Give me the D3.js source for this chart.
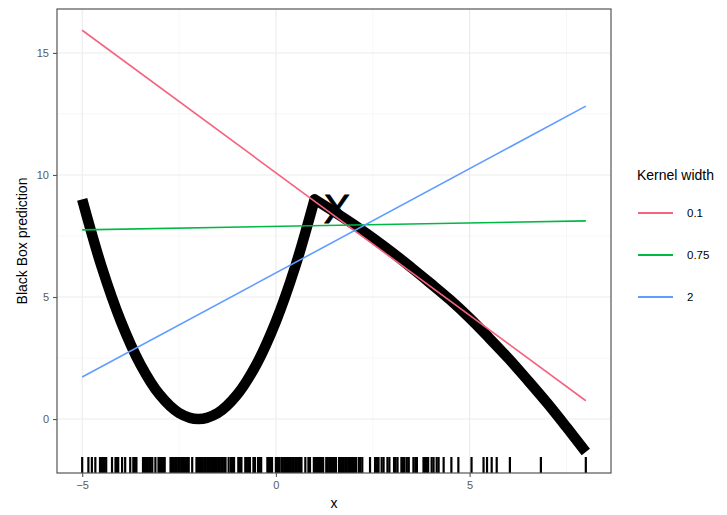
<!DOCTYPE html>
<html>
<head>
<meta charset="utf-8">
<script src="https://cdn.jsdelivr.net/npm/d3@7"></script>
<style>
  html, body { margin: 0; padding: 0; background: #fff; }
  svg { display: block; font-family: "Liberation Sans", Arial, Helvetica, sans-serif; }
</style>
</head>
<body>
<svg id="chart" width="727" height="515"></svg>
<script>
// ---- data ----
const xTicks = [-5, 0, 5];
const yTicks = [0, 5, 10, 15];
const xMinor = [-2.5, 2.5, 7.5];
const yMinor = [2.5, 7.5, 12.5];

// black-box prediction curve (x, y)
const curveX = [-5, -4.5, -4, -3.5, -3, -2.5, -2, -1.5, -1, -0.5, 0, 0.5, 1,
                1.5, 2, 2.5, 3, 3.5, 4, 4.5, 5, 5.5, 6, 6.5, 7, 7.5, 8];
const curveY = [9, 6.25, 4, 2.25, 1, 0.25, 0, 0.25, 1, 2.25, 4, 6.25, 9,
                8.5, 7.98, 7.42, 6.83, 6.2, 5.55, 4.88, 4.14, 3.33, 2.49, 1.59, 0.66, -0.33, -1.35];

// kernel width lines
const kernelWidths = ["0.1", "0.75", "2"];
const kernelColors = ["#F5647F", "#00B843", "#619CFF"];
const lineX = [-5, 8];
const lineY = {
  "0.1":  [15.93, 0.75],
  "0.75": [7.75, 8.12],
  "2":    [1.72, 12.82]
};

// instance of interest
const pointX = [1.58];
const pointY = [8.6];

// rug of sampled x values
const rugX = [
  -5.0, -4.84, -4.75, -4.66, -4.54, -4.50, -4.46, -4.42, -4.38, -4.23, -4.14, -4.10, -4.07,
  -3.97, -3.89, -3.76, -3.68, -3.64, -3.60, -3.43, -3.39, -3.35, -3.31, -3.27, -3.23, -3.19,
  -3.11, -3.03, -2.99, -2.95, -2.91, -2.87, -2.72, -2.68, -2.64, -2.60,
  -2.56, -2.52, -2.48, -2.44, -2.40, -2.36, -2.32, -2.28, -2.25, -2.16,
  -2.05, -2.01, -1.97, -1.93, -1.89, -1.85, -1.81, -1.77, -1.73, -1.69, -1.65, -1.61,
  -1.57, -1.53, -1.49, -1.45, -1.41, -1.37, -1.33, -1.30, -1.22, -1.16, -1.12, -1.08,
  -0.97, -0.93, -0.89, -0.79, -0.75, -0.71, -0.67, -0.58, -0.54, -0.46, -0.42, -0.38,
  -0.22, -0.18, -0.14, -0.10, 0.0, 0.04, 0.08,
  0.14, 0.18, 0.22, 0.26, 0.30, 0.34, 0.38, 0.42, 0.46, 0.50, 0.54, 0.58, 0.62, 0.66,
  0.76, 0.84, 0.88, 0.98, 1.02, 1.06, 1.10, 1.14, 1.18, 1.22,
  1.30, 1.34, 1.38, 1.42, 1.46, 1.50, 1.55, 1.63, 1.67, 1.71, 1.75, 1.79, 1.83, 1.87,
  1.91, 1.95, 1.99, 2.03, 2.07, 2.14, 2.18, 2.23, 2.43, 2.56, 2.61, 2.65, 2.73, 2.78,
  2.88, 2.93, 3.05, 3.09, 3.14, 3.24, 3.28, 3.32, 3.38, 3.43, 3.55, 3.60, 3.64,
  3.81, 3.85, 3.89, 3.93, 4.02, 4.07, 4.15, 4.20, 4.33, 4.53, 4.71, 5.05, 5.36, 5.45,
  5.57, 5.70, 6.04, 6.84, 8.0
];

// ---- layout ----
const svg = d3.select("#chart");
const P = { left: 57, right: 611, top: 9, bottom: 473 };

const x = d3.scaleLinear().domain([-5.65, 8.65]).range([P.left, P.right]);
const y = d3.scaleLinear().domain([-2.21, 16.8]).range([P.bottom, P.top]);

const clipId = "panelClip";
svg.append("defs").append("clipPath").attr("id", clipId)
  .append("rect").attr("x", P.left).attr("y", P.top)
  .attr("width", P.right - P.left).attr("height", P.bottom - P.top);

// grid
const grid = svg.append("g");
grid.selectAll(".xmin").data(xMinor).join("line")
  .attr("x1", d => x(d)).attr("x2", d => x(d)).attr("y1", P.top).attr("y2", P.bottom)
  .attr("stroke", "#F2F2F2").attr("stroke-width", 0.6);
grid.selectAll(".ymin").data(yMinor).join("line")
  .attr("y1", d => y(d)).attr("y2", d => y(d)).attr("x1", P.left).attr("x2", P.right)
  .attr("stroke", "#F2F2F2").attr("stroke-width", 0.6);
grid.selectAll(".xmaj").data(xTicks).join("line")
  .attr("x1", d => x(d)).attr("x2", d => x(d)).attr("y1", P.top).attr("y2", P.bottom)
  .attr("stroke", "#EBEBEB").attr("stroke-width", 1.1);
grid.selectAll(".ymaj").data(yTicks).join("line")
  .attr("y1", d => y(d)).attr("y2", d => y(d)).attr("x1", P.left).attr("x2", P.right)
  .attr("stroke", "#EBEBEB").attr("stroke-width", 1.1);

const plot = svg.append("g").attr("clip-path", `url(#${clipId})`);

// black-box curve
const pts = curveX.map((d, i) => [d, curveY[i]]);
const line = d3.line().x(d => x(d[0])).y(d => y(d[1])).curve(d3.curveCatmullRom.alpha(0.5));
const left = pts.filter(d => d[0] <= 1);
const right = pts.filter(d => d[0] >= 1);
plot.append("path")
  .attr("d", line(left) + "L" + line(right).slice(1))
  .attr("fill", "none").attr("stroke", "#000").attr("stroke-width", 10.5)
  .attr("stroke-linejoin", "round").attr("stroke-linecap", "butt");

// point of interest
plot.selectAll(".pt").data(pointX).join("text")
  .attr("x", d => x(d)).attr("y", (d, i) => y(pointY[i]))
  .attr("text-anchor", "middle").attr("dominant-baseline", "central")
  .attr("font-size", 40).attr("fill", "#000")
  .attr("stroke", "#000").attr("stroke-width", 0.8).text("X");

// kernel lines
const kl = d3.line().x(d => x(d[0])).y(d => y(d[1]));
kernelWidths.forEach((k, i) => {
  plot.append("path")
    .attr("d", kl(lineX.map((xx, j) => [xx, lineY[k][j]])))
    .attr("fill", "none").attr("stroke", kernelColors[i]).attr("stroke-width", 1.6);
});

// rug
plot.selectAll(".rug").data(rugX).join("line")
  .attr("x1", d => x(d)).attr("x2", d => x(d))
  .attr("y1", P.bottom).attr("y2", P.bottom - 16)
  .attr("stroke", "#000").attr("stroke-width", 2.2);

// panel border
svg.append("rect").attr("x", P.left).attr("y", P.top)
  .attr("width", P.right - P.left).attr("height", P.bottom - P.top)
  .attr("fill", "none").attr("stroke", "#555").attr("stroke-width", 1.2);

// axes
const xAxis = svg.append("g").attr("transform", `translate(0,${P.bottom})`)
  .call(d3.axisBottom(x).tickValues(xTicks).tickSize(4).tickPadding(4).tickFormat(d3.format("d")));
const yAxis = svg.append("g").attr("transform", `translate(${P.left},0)`)
  .call(d3.axisLeft(y).tickValues(yTicks).tickSize(4).tickPadding(4).tickFormat(d3.format("d")));
[xAxis, yAxis].forEach(a => {
  a.select(".domain").remove();
  a.selectAll(".tick line").attr("stroke", "#555").attr("stroke-width", 1.1);
  a.selectAll(".tick text").attr("fill", "#5A5A5A").attr("font-size", 11)
    .attr("font-family", "Liberation Sans, Arial, sans-serif");
});

// axis titles
svg.append("text").attr("x", (P.left + P.right) / 2).attr("y", 508)
  .attr("text-anchor", "middle").attr("font-size", 14).attr("fill", "#000").text("x");
svg.append("text").attr("transform", `translate(27,${(P.top + P.bottom) / 2}) rotate(-90)`)
  .attr("text-anchor", "middle").attr("font-size", 14).attr("fill", "#000").text("Black Box prediction");

// legend
const lg = svg.append("g");
lg.append("text").attr("x", 637).attr("y", 180).attr("font-size", 14).attr("fill", "#000").text("Kernel width");
kernelWidths.forEach((k, i) => {
  const yy = 213 + i * 42;
  lg.append("line").attr("x1", 638).attr("x2", 673).attr("y1", yy).attr("y2", yy)
    .attr("stroke", kernelColors[i]).attr("stroke-width", 1.8);
  lg.append("text").attr("x", 687).attr("y", yy).attr("dominant-baseline", "central")
    .attr("font-size", 11.5).attr("fill", "#000").text(k);
});
</script>
</body>
</html>
